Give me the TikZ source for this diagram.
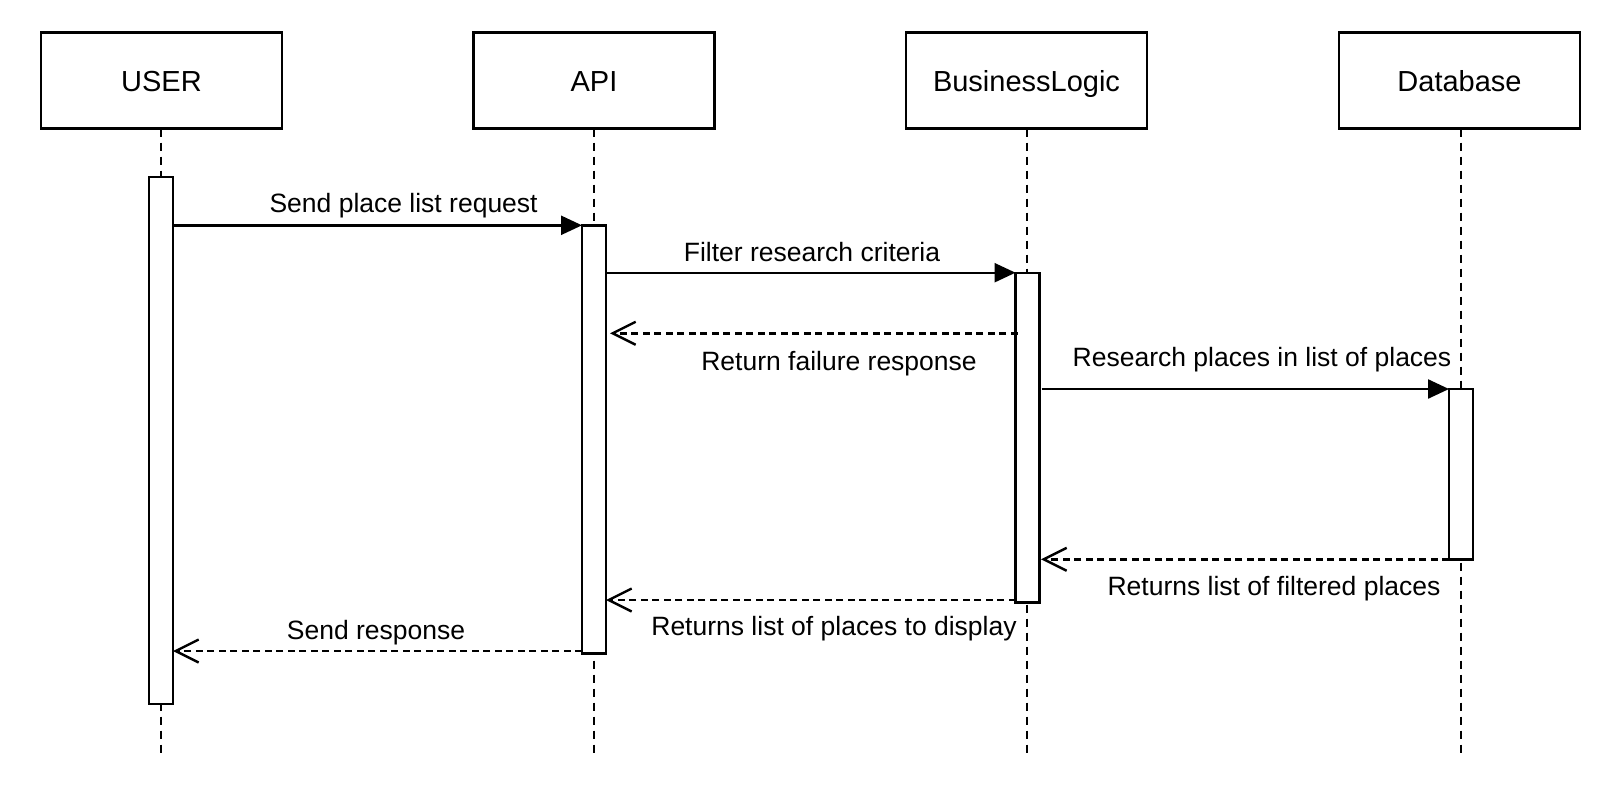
\documentclass[tikz,border=0pt]{standalone}
\usepackage{fontspec}
\setmainfont{Liberation Sans}
\usetikzlibrary{arrows.meta,calc}
\begin{document}
\begin{tikzpicture}[x=1pt,y=-1pt,
  every node/.style={inner sep=0pt, outer sep=0pt},
  header/.style={draw, line width=2.4pt, minimum width=241pt, minimum height=96pt,
    font=\fontsize{29}{32}\selectfont, text height=22pt, text depth=0pt},
  actbox/.style={draw, fill=white, line width=2.4pt, minimum width=24pt},
  lifeline/.style={line width=2.4pt, dash pattern=on 8pt off 6pt},
  callmsg/.style={line width=2.4pt, -{Triangle[length=21pt,width=19pt]}},
  retmsg/.style={line width=2.4pt, dash pattern=on 7pt off 4.5pt,
    -{Straight Barb[length=23pt,width=23pt,line width=2.4pt]}},
  lbl/.style={font=\fontsize{26.5}{30}\selectfont, anchor=base}
]
\useasboundingbox (0,0) rectangle (1602,807);

% headers
\node[header] (user) at (161.5,80.5) {USER};
\node[header] (api)  at (594,80.5) {API};
\node[header] (bl)   at (1026.5,80.5) {BusinessLogic};
\node[header] (db)   at (1459.5,80.5) {Database};

% lifeline ends
\coordinate (ue) at (161,754);
\coordinate (ae) at (594,754);
\coordinate (be) at (1027,754);
\coordinate (de) at (1461,754);

\draw[lifeline] (user.south -| ue) -- (ue);
\draw[lifeline] (api.south -| ae) -- (ae);
\draw[lifeline] (bl.south -| be) -- (be);
\draw[lifeline] (db.south -| de) -- (de);

% activation bars
\node[actbox, minimum height=527pt] (ua) at (161,440.2) {};
\node[actbox, minimum height=428pt] (aa) at (594,439.3) {};
\node[actbox, minimum height=329.5pt] (ba) at (1027.5,437.75) {};
\node[actbox, minimum height=170.5pt] (da) at (1461,474.25) {};

% message levels
\coordinate (y1) at (0,225.3);
\coordinate (y2) at (0,272.7);
\coordinate (y3) at (0,333.3);
\coordinate (y4) at (0,389);
\coordinate (y5) at (0,559.3);
\coordinate (y6) at (0,600);
\coordinate (y7) at (0,651);

\draw[callmsg] (ua.east |- y1) -- (aa.west |- y1);
\draw[callmsg] (aa.east |- y2) -- (ba.west |- y2);
\draw[retmsg] ([xshift=2pt]ba.west |- y3) -- ([xshift=4pt]aa.east |- y3);
\draw[callmsg] ([xshift=2pt]ba.east |- y4) -- (da.west |- y4);
\draw[retmsg] (da.west |- y5) -- ([xshift=1.5pt]ba.east |- y5);
\draw[retmsg] (ba.west |- y6) -- (aa.east |- y6);
\draw[retmsg] (aa.west |- y7) -- (ua.east |- y7);

% labels
\node[lbl] (l1) at (403.6,212.3) {Send place list request};
\node[lbl] (l2) at (812,261.7) {Filter research criteria};
\node[lbl] (l3) at (839,370) {Return failure response};
\node[lbl] (l4) at (1262,366.7) {Research places in list of places};
\node[lbl] (l5) at (1274,595) {Returns list of filtered places};
\node[lbl] (l6) at (834,635) {Returns list of places to display};
\node[lbl] (l7) at (376,639) {Send response};
\end{tikzpicture}
\end{document}
